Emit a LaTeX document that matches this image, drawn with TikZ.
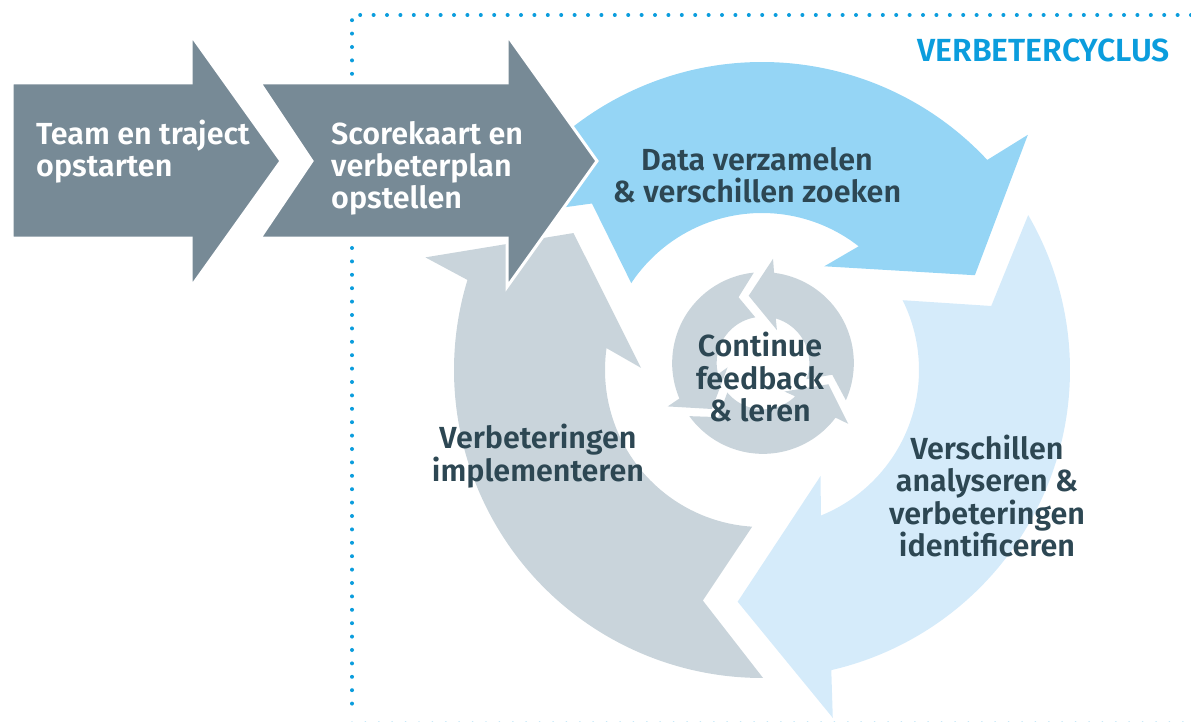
\documentclass[tikz,border=0pt]{standalone}
\usepackage{fontspec}
\setmainfont{Fira Sans}[BoldFont={Fira Sans SemiBold}]
\usetikzlibrary{positioning}

\definecolor{stepgray}{RGB}{119,138,150}
\definecolor{cycblue}{RGB}{149,213,245}
\definecolor{cyclight}{RGB}{213,235,250}
\definecolor{cycgray}{RGB}{201,212,219}
\definecolor{textdark}{RGB}{45,71,83}
\definecolor{titleblue}{RGB}{11,157,221}

\begin{document}
\begin{tikzpicture}[x=1pt, y=1pt,
    steparrow/.style={fill=stepgray, draw=white, line width=3pt},
    steplabel/.style={font=\bfseries\fontsize{30.5}{32}\selectfont, text=white, align=left, anchor=west, inner sep=0pt},
    cyclabel/.style={font=\bfseries\fontsize{30.5}{32.5}\selectfont, text=textdark, align=center, inner sep=0pt},
    dotline/.style={titleblue, line width=4pt, line cap=round, dash pattern=on 0pt off 13.4pt}]
	% Parameters
	\def\Rout{308}   % outer radius of the big cycle
	\def\Rin{157}    % inner radius of the big cycle
	\def\smallscale{0.295}

	\useasboundingbox (0,0) rectangle (1191,-722);

	% Dotted frame of the cycle
	\draw[dotline] (1191,-15) -- (352,-15) -- (352,-716);
	\draw[dotline, titleblue!25, line width=2pt] (352,-722) -- (1191,-722);

	% Big cycle arrows
	\begin{scope}[shift={(762,-370)}]
	\foreach \ang/\col in {0/cycblue, -120/cyclight, 120/cycgray}
	  \fill[\col, rotate=\ang] (150.2:\Rout) arc[start angle=150.2, end angle=43, radius=\Rout]
	    -- (41.5:355) -- (24:233) -- (59:121) -- (52:\Rin)
	    arc[start angle=52, end angle=146.4, radius=\Rin] -- (135.6:238) -- cycle;
	\end{scope}

	% Small cycle in the middle
	\begin{scope}[shift={(763,-363)}]
	\foreach \ang in {-54, 66, 186}
	  \fill[cycgray, rotate=\ang, xscale=-1, scale=\smallscale] (150.2:\Rout) arc[start angle=150.2, end angle=43, radius=\Rout]
	    -- (41.5:355) -- (24:233) -- (59:121) -- (52:\Rin)
	    arc[start angle=52, end angle=146.4, radius=\Rin] -- (135.6:238) -- cycle;
	\end{scope}

	% Start arrows
	\filldraw[steparrow] (12,-83) -- (191,-83) -- (191,-35) -- (281,-161) -- (191,-287) -- (191,-238) -- (12,-238) -- cycle;
	\filldraw[steparrow] (260,-83) -- (507,-83) -- (507,-35) -- (597,-161) -- (507,-287) -- (507,-238) -- (260,-238) -- (312,-161) -- cycle;

	% Labels
	\node[steplabel] (team) at (36,-152) {Team en traject\\opstarten};
	\node[steplabel] (plan) at (331,-168) {Scorekaart en\\verbeterplan\\opstellen};
	\node[cyclabel] (data) at (757,-175) {Data verzamelen\\\& verschillen zoeken};
	\node[cyclabel] (analyse) at (987,-496) {Verschillen\\analyseren \&\\verbeteringen\\identificeren};
	\node[cyclabel] (implement) at (538,-456) {Verbeteringen\\implementeren};
	\node[cyclabel] (feedback) at (760,-377) {Continue\\feedback\\\& leren};
	\node[font=\bfseries\fontsize{32}{34}\selectfont, text=titleblue, anchor=base east, inner sep=0pt] (title) at (1170,-62) {VERBETERCYCLUS};
\end{tikzpicture}
\end{document}
